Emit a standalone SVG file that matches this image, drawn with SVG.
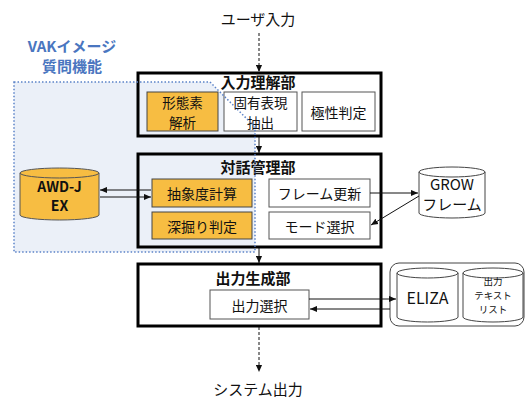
<svg xmlns="http://www.w3.org/2000/svg" width="526" height="398" viewBox="0 0 526 398">
<defs>
<style>
text{font-family:"Noto Sans CJK JP","Noto Sans",sans-serif;fill:#111;text-anchor:middle;dominant-baseline:central}
.blk{fill:none;stroke:#000;stroke-width:3}
.org{fill:#f7bd42;stroke:#444;stroke-width:1}
.wht{fill:#fff;stroke:#555;stroke-width:1}
.t{font-size:14px}
.t2{font-size:13.5px}
.h{font-size:15px;font-weight:bold}
.ln{stroke:#111;stroke-width:1;fill:none}
.dash{stroke:#111;stroke-width:1;fill:none;stroke-dasharray:3,2}
</style>
<marker id="ar" viewBox="0 0 8 8" refX="8" refY="4" markerWidth="7" markerHeight="7" orient="auto" markerUnits="userSpaceOnUse"><path d="M0,0.5L8,4L0,7.5z" fill="#111"/></marker>
</defs>
<rect width="526" height="398" fill="#fff"/>
<g id="vak-fill"><path d="M14,82H210L255,127V252H14Z" fill="#ebf0f8"/></g>
<g id="vak-label"><text x="72" y="45" style="font-size:15px;font-weight:bold;fill:#4a76c0">VAKイメージ</text><text x="72" y="65" style="font-size:15px;font-weight:bold;fill:#4a76c0">質問機能</text></g>
<text x="258" y="18" style="font-size:15px">ユーザ入力</text>
<text x="258" y="388" style="font-size:15px">システム出力</text>
<g id="input">
<rect x="138" y="73" width="243" height="63" class="blk"/>
<text x="258" y="81" class="h">入力理解部</text>
<g id="keitaiso"><rect x="147" y="92" width="71" height="39" class="org"/><text x="182.5" y="102" class="t2">形態素</text><text x="182.5" y="121.5" class="t2">解析</text></g>
<g id="koyu"><rect x="224" y="92" width="73" height="39" class="wht"/><text x="260.5" y="102" class="t2">固有表現</text><text x="260.5" y="121.5" class="t2">抽出</text></g>
<g id="kyokusei"><rect x="302" y="92" width="73" height="39" class="wht"/><text x="338.5" y="111.5" class="t">極性判定</text></g>
</g>
<g id="dialog">
<rect x="138" y="154" width="243" height="93" class="blk"/>
<text x="258" y="166" class="h">対話管理部</text>
<g id="chusho"><rect x="152" y="179" width="100" height="28" class="org"/><text x="202" y="193" class="t">抽象度計算</text></g>
<g id="fukabori"><rect x="152" y="212" width="100" height="27" class="org"/><text x="202" y="225.5" class="t">深掘り判定</text></g>
<g id="frame"><rect x="269" y="179" width="101" height="28" class="wht"/><text x="319.5" y="193" class="t">フレーム更新</text></g>
<g id="mode"><rect x="269" y="212" width="101" height="27" class="wht"/><text x="319.5" y="225.5" class="t">モード選択</text></g>
</g>
<g id="output">
<rect x="138" y="264" width="243" height="62" class="blk"/>
<text x="253" y="277" class="h">出力生成部</text>
<g id="sentaku"><rect x="210" y="290" width="99" height="29" class="wht"/><text x="259.5" y="304.5" class="t">出力選択</text></g>
</g>
<g id="awdj">
<path d="M20,173A39.5,5 0 0 1 99,173V215A39.5,5 0 0 1 20,215Z" fill="#f7bd42" stroke="#555"/>
<path d="M20,173A39.5,5 0 0 0 99,173" fill="none" stroke="#555"/>
<text x="59.5" y="186" style="font-size:14px;font-weight:bold">AWD-J</text><text x="59.5" y="205" style="font-size:14px;font-weight:bold">EX</text>
</g>
<g id="grow">
<path d="M419,172A33,5 0 0 1 485,172V213A33,5 0 0 1 419,213Z" fill="#fff" stroke="#444"/>
<path d="M419,172A33,5 0 0 0 485,172" fill="none" stroke="#444"/>
<text x="452" y="183" style="font-size:15px">GROW</text><text x="452" y="203" style="font-size:15px">フレーム</text>
</g>
<g id="db-group">
<rect x="390" y="263" width="134" height="63" rx="9" fill="#fff" stroke="#444"/>
<g id="eliza">
<path d="M397,273A30.5,5 0 0 1 458,273V317A30.5,5 0 0 1 397,317Z" fill="#fff" stroke="#444"/>
<path d="M397,273A30.5,5 0 0 0 458,273" fill="none" stroke="#444"/>
<text x="427.5" y="297" style="font-size:16px">ELIZA</text>
</g>
<g id="textlist">
<path d="M463,273A30,5 0 0 1 523,273V317A30,5 0 0 1 463,317Z" fill="#fff" stroke="#444"/>
<path d="M463,273A30,5 0 0 0 523,273" fill="none" stroke="#444"/>
<text x="493" y="281" style="font-size:9.5px">出力</text><text x="493" y="295" style="font-size:9.5px">テキスト</text><text x="493" y="309" style="font-size:9.5px">リスト</text>
</g>
</g>
<g id="connectors">
<line x1="259" y1="33" x2="259" y2="72" class="dash" marker-end="url(#ar)"/>
<line x1="259" y1="137" x2="259" y2="153" class="ln" marker-end="url(#ar)"/>
<line x1="259" y1="248" x2="259" y2="263" class="ln" marker-end="url(#ar)"/>
<line x1="259" y1="327" x2="259" y2="372" class="dash" marker-end="url(#ar)"/>
<line x1="151" y1="190" x2="100" y2="190" class="ln" marker-end="url(#ar)"/>
<line x1="100" y1="197" x2="151" y2="197" class="ln" marker-end="url(#ar)"/>
<line x1="370" y1="193" x2="418" y2="193" class="ln" marker-end="url(#ar)"/>
<line x1="419" y1="196" x2="371" y2="225" class="ln" marker-end="url(#ar)"/>
<line x1="309" y1="299" x2="396" y2="299" class="ln" marker-end="url(#ar)"/>
<line x1="390" y1="309" x2="310" y2="309" class="ln" marker-end="url(#ar)"/>
</g>
<g id="vak-outline"><path d="M14,82H210L255,127V252H14Z" fill="none" stroke="#5b82c8" stroke-width="1.5" stroke-dasharray="1.5,2"/></g>
</svg>
